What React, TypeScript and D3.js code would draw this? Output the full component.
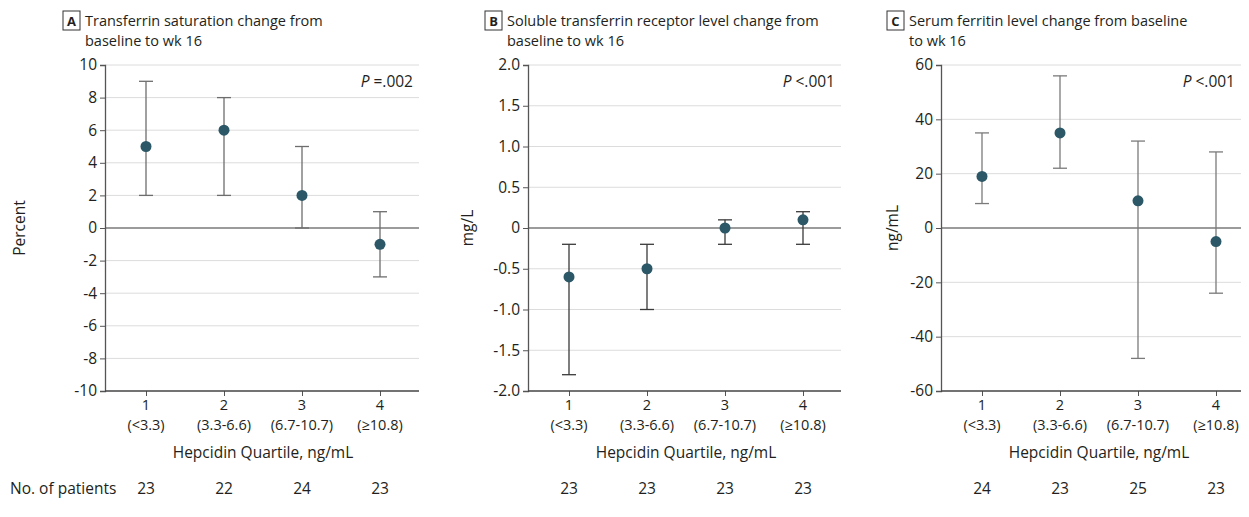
import React, { useEffect, useRef } from "react";
import * as d3 from "d3";

const quartiles = ["1", "2", "3", "4"];
const quartileRanges = ["(<3.3)", "(3.3-6.6)", "(6.7-10.7)", "(≥10.8)"];

// A: transferrin saturation, percent
const tsatMean = [5, 6, 2, -1];
const tsatLow = [2, 2, 0, -3];
const tsatHigh = [9, 8, 5, 1];
const tsatPatients = [23, 22, 24, 23];
const tsatTicks = [10, 8, 6, 4, 2, 0, -2, -4, -6, -8, -10];

// B: soluble transferrin receptor, mg/L
const stfrMean = [-0.6, -0.5, 0, 0.1];
const stfrLow = [-1.8, -1.0, -0.2, -0.2];
const stfrHigh = [-0.2, -0.2, 0.1, 0.2];
const stfrPatients = [23, 23, 23, 23];
const stfrTicks = [2, 1.5, 1, 0.5, 0, -0.5, -1, -1.5, -2];

// C: serum ferritin, ng/mL
const ferMean = [19, 35, 10, -5];
const ferLow = [9, 22, -48, -24];
const ferHigh = [35, 56, 32, 28];
const ferPatients = [24, 23, 25, 23];
const ferTicks = [60, 40, 20, 0, -20, -40, -60];

const FONT = "'Open Sans', sans-serif";
const TEXT = "#231f20";
const FS = 15.5;
const FS_SMALL = 14.5;

const panels = [
  {
    letter: "A",
    title: ["Transferrin saturation change from", "baseline to wk 16"],
    boxX: 63,
    left: 105,
    right: 419,
    domain: [-10, 10],
    ticks: tsatTicks,
    fmt: (d: number) => (d < 0 ? "-" + Math.abs(d) : String(d)),
    yLabel: "Percent",
    yLabelX: 20,
    pText: "=.002",
    mean: tsatMean,
    low: tsatLow,
    high: tsatHigh,
    patients: tsatPatients,
    barColor: "#6d6d6d",
  },
  {
    letter: "B",
    title: ["Soluble transferrin receptor level change from", "baseline to wk 16"],
    boxX: 485,
    left: 528,
    right: 841,
    domain: [-2, 2],
    ticks: stfrTicks,
    fmt: (d: number) =>
      d === 0 ? "0" : (d < 0 ? "-" : "") + Math.abs(d).toFixed(1),
    yLabel: "mg/L",
    yLabelX: 468,
    pText: "<.001",
    mean: stfrMean,
    low: stfrLow,
    high: stfrHigh,
    patients: stfrPatients,
    barColor: "#3a3a3a",
  },
  {
    letter: "C",
    title: ["Serum ferritin level change from baseline", "to wk 16"],
    boxX: 887,
    left: 941,
    right: 1241,
    domain: [-60, 60],
    ticks: ferTicks,
    fmt: (d: number) => (d < 0 ? "-" + Math.abs(d) : String(d)),
    yLabel: "ng/mL",
    yLabelX: 893,
    pText: "<.001",
    mean: ferMean,
    low: ferLow,
    high: ferHigh,
    patients: ferPatients,
    barColor: "#7a7a7a",
  },
];

const App = () => {
  const ref = useRef<SVGSVGElement>(null);

  useEffect(() => {
    const svg = d3.select(ref.current);
    svg.selectAll("*").remove();

    const top = 65;
    const bottom = 391;

    panels.forEach((p) => {
      const g = svg.append("g").attr("font-family", FONT).attr("fill", TEXT);

      const x = d3
        .scalePoint()
        .domain(quartiles)
        .range([p.left + 41, p.left + 41 + 78 * 3]);

      const y = d3.scaleLinear().domain(p.domain).range([bottom, top]);

      // grid
      g.append("g")
        .selectAll("line")
        .data(p.ticks.filter((t) => t !== 0 && t !== p.domain[0]))
        .join("line")
        .attr("x1", p.left)
        .attr("x2", p.right)
        .attr("y1", (d) => y(d))
        .attr("y2", (d) => y(d))
        .attr("stroke", "#dcdcdc")
        .attr("stroke-width", 1);

      // zero line
      g.append("line")
        .attr("x1", p.left)
        .attr("x2", p.right)
        .attr("y1", y(0))
        .attr("y2", y(0))
        .attr("stroke", "#7a7a7a")
        .attr("stroke-width", 1.3);

      // y axis
      const yAxis = g
        .append("g")
        .attr("transform", `translate(${p.left},0)`)
        .call(
          d3
            .axisLeft(y)
            .tickValues(p.ticks)
            .tickSize(5)
            .tickPadding(3)
            .tickFormat((d) => p.fmt(d as number))
        );
      yAxis.select(".domain").attr("stroke", "#555").attr("stroke-width", 1.3);
      yAxis.selectAll(".tick line").attr("stroke", "#555");
      yAxis
        .selectAll(".tick text")
        .attr("font-size", FS)
        .attr("font-family", FONT)
        .attr("fill", TEXT);

      // x axis
      const xAxis = g
        .append("g")
        .attr("transform", `translate(0,${bottom})`)
        .call(d3.axisBottom(x).tickSize(5).tickFormat(() => ""));
      xAxis.select(".domain").remove();
      xAxis.selectAll(".tick line").attr("stroke", "#555");
      g.append("line")
        .attr("x1", p.left)
        .attr("x2", p.right)
        .attr("y1", bottom)
        .attr("y2", bottom)
        .attr("stroke", "#444")
        .attr("stroke-width", 1.3);

      quartiles.forEach((q, i) => {
        g.append("text")
          .attr("x", x(q)!)
          .attr("y", 410)
          .attr("text-anchor", "middle")
          .attr("font-size", FS_SMALL)
          .text(q);
        g.append("text")
          .attr("x", x(q)!)
          .attr("y", 430)
          .attr("text-anchor", "middle")
          .attr("font-size", FS_SMALL)
          .text(quartileRanges[i]);
        g.append("text")
          .attr("x", x(q)!)
          .attr("y", 494)
          .attr("text-anchor", "middle")
          .attr("font-size", FS)
          .text(p.patients[i]);
      });

      g.append("text")
        .attr("x", (x("1")! + x("4")!) / 2)
        .attr("y", 458)
        .attr("text-anchor", "middle")
        .attr("font-size", FS)
        .text("Hepcidin Quartile, ng/mL");

      // y label
      g.append("text")
        .attr("transform", `translate(${p.yLabelX + 5},${(top + bottom) / 2}) rotate(-90)`)
        .attr("text-anchor", "middle")
        .attr("font-size", FS)
        .text(p.yLabel);

      // title
      g.append("rect")
        .attr("x", p.boxX)
        .attr("y", 11)
        .attr("width", 17)
        .attr("height", 19)
        .attr("fill", "none")
        .attr("stroke", "#333")
        .attr("stroke-width", 1);
      g.append("text")
        .attr("x", p.boxX + 8.5)
        .attr("y", 25.5)
        .attr("text-anchor", "middle")
        .attr("font-size", 13)
        .attr("font-weight", "bold")
        .text(p.letter);
      p.title.forEach((line, i) => {
        g.append("text")
          .attr("x", p.boxX + 22)
          .attr("y", 25.5 + i * 20)
          .attr("font-size", FS_SMALL)
          .text(line);
      });

      // P value
      const pt = g
        .append("text")
        .attr("x", p.right - 6)
        .attr("y", 87)
        .attr("text-anchor", "end")
        .attr("font-size", FS);
      pt.append("tspan").attr("font-style", "italic").text("P");
      pt.append("tspan").text(" " + p.pText);

      // error bars
      quartiles.forEach((q, i) => {
        const cx = x(q)!;
        g.append("line")
          .attr("x1", cx)
          .attr("x2", cx)
          .attr("y1", y(p.low[i]))
          .attr("y2", y(p.high[i]))
          .attr("stroke", p.barColor)
          .attr("stroke-width", 1.3);
        [p.low[i], p.high[i]].forEach((v) => {
          g.append("line")
            .attr("x1", cx - 7)
            .attr("x2", cx + 7)
            .attr("y1", y(v))
            .attr("y2", y(v))
            .attr("stroke", p.barColor)
            .attr("stroke-width", 1.3);
        });
      });

      g.append("g")
        .selectAll("circle")
        .data(p.mean)
        .join("circle")
        .attr("cx", (_, i) => x(quartiles[i])!)
        .attr("cy", (d) => y(d))
        .attr("r", 5.5)
        .attr("fill", "#2b5766");
    });

    svg
      .append("text")
      .attr("x", 10)
      .attr("y", 494)
      .attr("font-family", FONT)
      .attr("font-size", FS)
      .attr("fill", TEXT)
      .text("No. of patients");
  }, []);

  return (
    <svg
      ref={ref}
      width={1249}
      height={517}
      style={{ position: "absolute", left: 0, top: 0, background: "#fff" }}
    />
  );
};

export default App;
